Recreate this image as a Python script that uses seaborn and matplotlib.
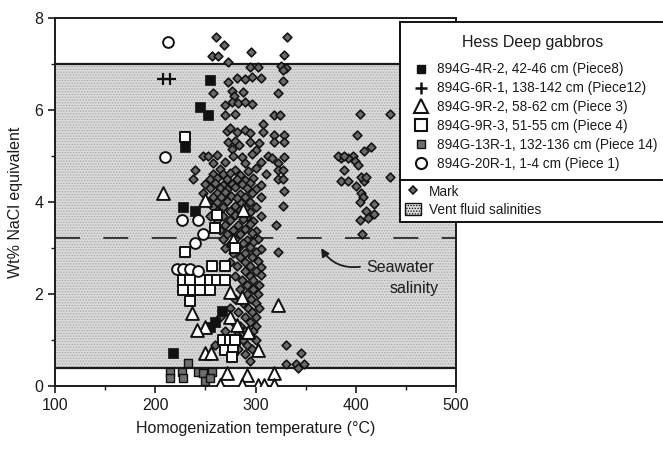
import matplotlib
matplotlib.use("Agg")
import matplotlib.pyplot as plt
import seaborn as sns
import pandas as pd
from matplotlib.lines import Line2D
from matplotlib.patches import Patch

# ---------------- data ----------------
x_ticks = [100, 200, 300, 400, 500]
y_ticks = [0, 2, 4, 6, 8]
vent_low, vent_high = 0.4, 7.0
seawater = 3.22

mark_pts = [
    (261, 7.58), (331, 7.58), (269, 7.41), (296, 7.27), (328, 7.2), (257, 7.17), (263, 7.17), (273, 7.05),
    (295, 6.94), (302, 6.94), (325, 6.96), (330, 6.92), (327, 6.86),
    (282, 6.7), (290, 6.68), (297, 6.72), (305, 6.7), (273, 6.6), (327, 6.64),
    (258, 6.38), (277, 6.42), (288, 6.4), (322, 6.38), (279, 6.3),
    (277, 6.18), (283, 6.15), (290, 6.18), (297, 6.12), (270, 6.1),
    (270, 5.9), (280, 5.92), (318, 5.89), (324, 5.89),
    (307, 5.7), (272, 5.55), (275, 5.6), (282, 5.52), (290, 5.57), (295, 5.5), (307, 5.52),
    (318, 5.45), (328, 5.45),
    (273, 5.3), (280, 5.32), (284, 5.25), (295, 5.3), (303, 5.28), (318, 5.31), (328, 5.31),
    (277, 5.15), (300, 5.12),
    (248, 5.0), (253, 5.0), (262, 5.02), (278, 5.0), (287, 4.98), (297, 5.04), (312, 5.0), (316, 4.95), (328, 4.98),
    (258, 4.85), (270, 4.86), (290, 4.84), (305, 4.88), (322, 4.85),
    (240, 4.7), (265, 4.72), (280, 4.7), (293, 4.68), (300, 4.73), (322, 4.7), (327, 4.7),
    (258, 4.6), (268, 4.6), (275, 4.62), (285, 4.58), (310, 4.6),
    (238, 4.5), (255, 4.5), (262, 4.52), (272, 4.5), (282, 4.5), (290, 4.48), (298, 4.52), (322, 4.5), (327, 4.5),
    (250, 4.4), (260, 4.42), (268, 4.38), (277, 4.4), (287, 4.4), (295, 4.42), (305, 4.38),
    (255, 4.3), (265, 4.3), (272, 4.28), (280, 4.32), (292, 4.3), (300, 4.28),
    (248, 4.2), (262, 4.2), (270, 4.22), (285, 4.18), (297, 4.2), (328, 4.23),
    (258, 4.1), (266, 4.1), (276, 4.12), (282, 4.08), (290, 4.1), (305, 4.1),
    (253, 4.0), (262, 4.0), (272, 4.02), (286, 3.98), (295, 4.0),
    (258, 3.9), (268, 3.9), (280, 3.92), (290, 3.88), (300, 3.9), (327, 3.91),
    (262, 3.8), (275, 3.8), (285, 3.82), (295, 3.78),
    (255, 3.7), (268, 3.7), (280, 3.72), (292, 3.68), (305, 3.7),
    (262, 3.6), (275, 3.6), (288, 3.62), (298, 3.58),
    (270, 3.5), (283, 3.5), (295, 3.52), (320, 3.5),
    (265, 3.4), (278, 3.4), (290, 3.42), (300, 3.38),
    (272, 3.3), (285, 3.3), (297, 3.32),
    (268, 3.2), (280, 3.2), (292, 3.18), (302, 3.2),
    (276, 3.1), (288, 3.1), (298, 3.12),
    (270, 3.0), (283, 3.0), (295, 3.02), (305, 2.98),
    (278, 2.9), (290, 2.9), (300, 2.92), (322, 2.92),
    (285, 2.8), (297, 2.8),
    (275, 2.7), (290, 2.7), (302, 2.72),
    (282, 2.6), (295, 2.6), (305, 2.58),
    (290, 2.5), (300, 2.5),
    (280, 2.4), (295, 2.4), (305, 2.42),
    (287, 2.3), (298, 2.3),
    (292, 2.2), (303, 2.2),
    (285, 2.1), (298, 2.1),
    (292, 2.0), (302, 2.0),
    (280, 1.9), (296, 1.9),
    (288, 1.8), (300, 1.8),
    (275, 1.7), (293, 1.7), (303, 1.7),
    (283, 1.6), (297, 1.6),
    (265, 1.5), (290, 1.5), (300, 1.5),
    (278, 1.4), (295, 1.4),
    (285, 1.3), (300, 1.3),
    (270, 1.2), (290, 1.2), (298, 1.2),
    (282, 1.1), (295, 1.1),
    (288, 1.0), (300, 1.0),
    (260, 0.9), (292, 0.9), (330, 0.89),
    (283, 0.8), (297, 0.8),
    (290, 0.7), (345, 0.71),
    (295, 0.55),
    (330, 0.47), (340, 0.47), (348, 0.47), (342, 0.4),
    # high-temperature group
    (404, 5.91), (434, 5.91), (401, 5.45), (408, 5.1), (415, 5.2), (397, 5.0), (385, 4.95),
    (392, 4.95), (399, 4.9), (402, 4.8), (382, 5.0), (388, 5.0), (388, 4.7), (385, 4.45),
    (392, 4.45), (400, 4.35), (408, 4.45), (405, 4.55), (410, 4.55), (434, 4.55), (405, 4.2),
    (407, 4.1), (404, 4.0), (418, 3.95), (418, 3.75), (410, 3.8), (412, 3.65), (404, 3.6), (406, 3.3),
]

s4R2_pts = [(255, 6.65), (245, 6.07), (253, 5.9), (230, 5.2), (228, 3.9), (240, 3.8), (218, 0.71),
            (267, 1.63), (260, 1.39), (255, 1.29)]
s6R1_pts = [(208, 6.67), (215, 6.67)]
s9R2_pts = [(208, 4.2), (250, 4.04), (288, 3.83), (278, 3.17), (275, 2.05), (287, 1.94), (322, 1.76),
            (237, 1.58), (275, 1.5), (250, 1.29), (242, 1.22), (282, 1.33), (293, 1.18),
            (250, 0.71), (256, 0.71), (302, 0.78), (272, 0.28), (292, 0.24), (318, 0.28),
            (265, 0.02), (287, 0.02), (302, 0.02), (308, 0.02), (318, 0.02)]
s9R3_pts = [(230, 5.41), (262, 3.72), (260, 3.43), (280, 3.0), (230, 2.92), (257, 2.6), (270, 2.6),
            (228, 2.3), (235, 2.3), (245, 2.3), (255, 2.3), (262, 2.3), (270, 2.3),
            (228, 2.09), (238, 2.09), (245, 2.09), (255, 2.09), (235, 1.85),
            (268, 1.0), (275, 1.0), (280, 1.0), (270, 0.78), (278, 0.78), (277, 0.64)]
s13R1_pts = [(215, 0.31), (215, 0.17), (227, 0.31), (228, 0.17), (243, 0.31), (248, 0.28),
             (257, 0.31), (233, 0.5), (250, 0.1), (255, 0.17)]
s20R1_pts = [(213, 7.48), (210, 4.98), (227, 3.6), (243, 3.6), (248, 3.3), (240, 3.1),
             (222, 2.55), (228, 2.55), (235, 2.55), (243, 2.5)]

labels = ["894G-4R-2, 42-46 cm (Piece8)",
          "894G-6R-1, 138-142 cm (Piece12)",
          "894G-9R-2, 58-62 cm (Piece 3)",
          "894G-9R-3, 51-55 cm (Piece 4)",
          "894G-13R-1, 132-136 cm (Piece 14)",
          "894G-20R-1, 1-4 cm (Piece 1)"]

# ---------------- style ----------------
sns.set_style("ticks")
plt.rcParams["font.family"] = ["Liberation Sans", "DejaVu Sans"]
plt.rcParams["hatch.linewidth"] = 0.6

ink = "#1c1c1c"
fig = plt.figure(figsize=(6.63, 4.51), dpi=100)
ax = fig.add_axes([55 / 663, 1 - 386 / 451, 401 / 663, 368 / 451])

# vent fluid band
ax.axhspan(vent_low, vent_high, facecolor="#dadada", edgecolor="#a8a8a8", hatch="......", lw=0, zorder=0)
ax.axhline(vent_low, color=ink, lw=1.6, zorder=1)
ax.axhline(vent_high, color=ink, lw=1.6, zorder=1)
ax.axhline(seawater, color=ink, lw=1.2, dashes=(15, 14), zorder=1)


def df(pts):
    return pd.DataFrame(pts, columns=["T", "S"])


kw = dict(ax=ax, x="T", y="S", legend=False, zorder=3)
sns.scatterplot(data=df(mark_pts), marker="D", s=20, color="#6a6a6a", edgecolor="#111111", linewidth=1.15, **kw)
sns.scatterplot(data=df(s4R2_pts), marker="s", s=45, color="#111111", edgecolor="#111111", linewidth=0.5, **kw)
sns.scatterplot(data=df(s6R1_pts), marker="+", s=70, color="#111111", linewidth=1.6, **kw)
sns.scatterplot(data=df(s9R2_pts), marker="^", s=85, color="white", edgecolor="#111111", linewidth=1.4, **kw)
sns.scatterplot(data=df(s9R3_pts), marker="s", s=60, color="white", edgecolor="#111111", linewidth=1.4, **kw)
sns.scatterplot(data=df(s13R1_pts), marker="s", s=35, color="#6e6e6e", edgecolor="#111111", linewidth=1.0, **kw)
sns.scatterplot(data=df(s20R1_pts), marker="o", s=60, color="white", edgecolor="#111111", linewidth=1.4, **kw)

ax.set_xlim(100, 500)
ax.set_ylim(0, 8)
ax.set_xticks(x_ticks)
ax.set_yticks(y_ticks)
ax.set_xticks([150, 250, 350, 450], minor=True)
ax.set_yticks([1, 3, 5, 7], minor=True)
ax.tick_params(axis="both", which="major", direction="out", length=5, width=1.2, labelsize=11.5, colors=ink)
ax.tick_params(axis="both", which="minor", direction="out", length=3, width=1.0, colors=ink)
for sp in ax.spines.values():
    sp.set_linewidth(1.4)
    sp.set_color(ink)
    sp.set_visible(True)
ax.set_xlabel("Homogenization temperature (°C)", fontsize=11.5, color=ink, labelpad=6)
ax.set_ylabel("Wt% NaCl equivalent", fontsize=11.5, color=ink, labelpad=8)

# seawater annotation
ax.annotate("", xy=(364, 3.05), xytext=(407, 2.6),
            arrowprops=dict(arrowstyle="-|>", color=ink, lw=1.3, mutation_scale=12,
                            connectionstyle="arc3,rad=-0.35"), zorder=4)
ax.text(478, 2.58, "Seawater", ha="right", va="center", fontsize=11.5, color=ink, zorder=4)
ax.text(483, 2.12, "salinity", ha="right", va="center", fontsize=11.5, color=ink, zorder=4)

# legends
h_samples = [
    Line2D([], [], ls="", marker="s", ms=6, mfc="#111111", mec="#111111"),
    Line2D([], [], ls="", marker="+", ms=9, mew=1.8, color="#111111"),
    Line2D([], [], ls="", marker="^", ms=10, mfc="white", mec="#111111", mew=1.5),
    Line2D([], [], ls="", marker="s", ms=8, mfc="white", mec="#111111", mew=1.5),
    Line2D([], [], ls="", marker="s", ms=5.5, mfc="#6e6e6e", mec="#111111", mew=1.0),
    Line2D([], [], ls="", marker="o", ms=8, mfc="white", mec="#111111", mew=1.5),
]
x0 = 400 / 663
w = 266 / 663
leg1 = fig.legend(h_samples, labels, loc="upper left",
                  bbox_to_anchor=(x0, 1 - 22 / 451, w, 0), mode="expand",
                  title="Hess Deep gabbros", title_fontsize=11.5, fontsize=9.8,
                  frameon=True, fancybox=False, framealpha=1, edgecolor="#111111",
                  borderaxespad=0, labelspacing=0.36, handletextpad=0.6, handlelength=1.2,
                  borderpad=0.95, alignment="center")
leg1._legend_box.sep = 9
leg1.get_frame().set_linewidth(1.4)
for t in leg1.get_texts():
    t.set_color(ink)
leg1.get_title().set_color(ink)

h_other = [
    Line2D([], [], ls="", marker="D", ms=4.5, mfc="#6a6a6a", mec="#111111", mew=1.1),
    Patch(facecolor="#dadada", edgecolor="#111111", hatch="......", lw=1.0),
]
leg2 = fig.legend(h_other, ["Mark", "Vent fluid salinities"], loc="upper left",
                  bbox_to_anchor=(x0, 1 - 180 / 451, w, 0), mode="expand",
                  fontsize=9.8, frameon=True, fancybox=False, framealpha=1, edgecolor="#111111",
                  borderaxespad=0, labelspacing=0.3, handletextpad=0.6, handlelength=1.2,
                  handleheight=1.0, borderpad=0.35)
leg2.get_frame().set_linewidth(1.4)
for t in leg2.get_texts():
    t.set_color(ink)

fig.savefig("out.png", dpi=100)
